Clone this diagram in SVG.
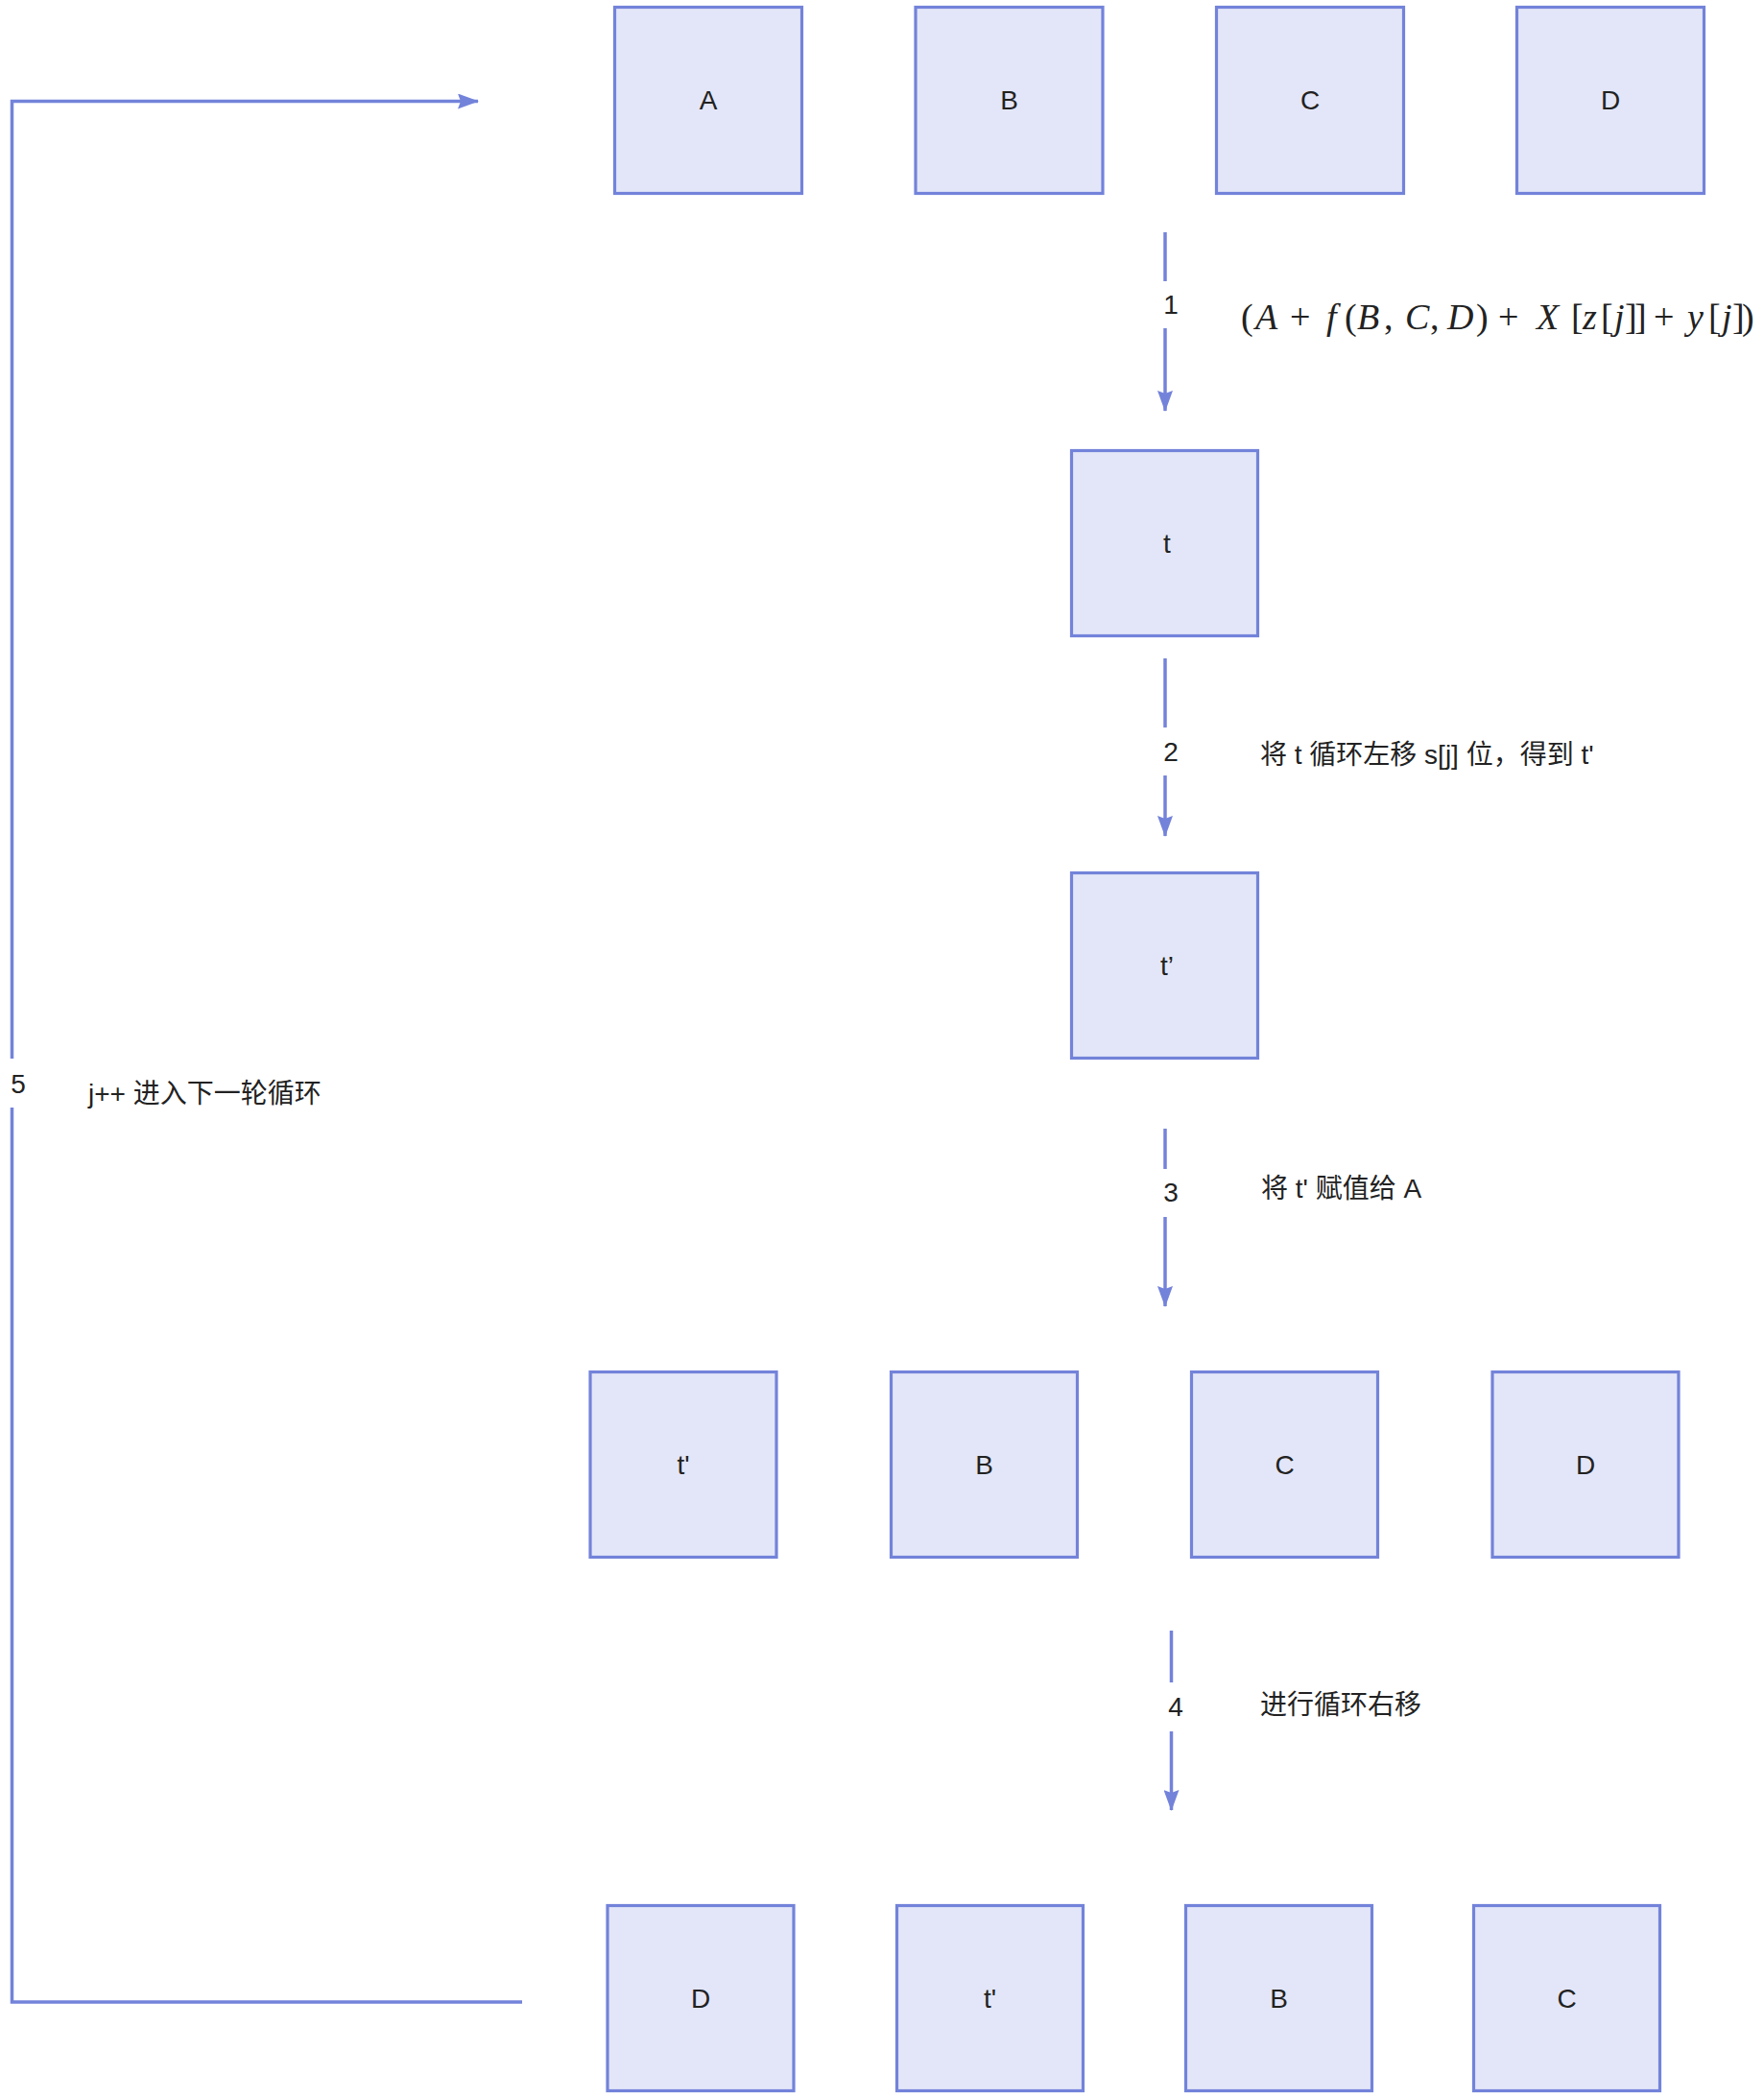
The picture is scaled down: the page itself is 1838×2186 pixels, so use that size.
<svg xmlns="http://www.w3.org/2000/svg" width="1838" height="2186" viewBox="0 0 1838 2186">
<style>
.box{fill:#e3e6f8;stroke:#7383da;stroke-width:3.2}
.lbl{font-family:"Liberation Sans","Noto Sans CJK SC",sans-serif;font-size:28px;fill:#222;text-anchor:middle;dominant-baseline:central}
.txt{font-family:"Liberation Sans","Noto Sans CJK SC",sans-serif;font-size:28px;fill:#222;dominant-baseline:central}
.edge{fill:none;stroke:#7383da;stroke-width:3.5}
.bg{fill:#ffffff}
.math{font-family:"Liberation Serif","DejaVu Serif",serif;font-size:38px;fill:#222}
.it{font-style:italic}
</style>
<defs>
<marker id="arr" viewBox="0 0 22 16" refX="21" refY="8" markerWidth="22" markerHeight="16" markerUnits="userSpaceOnUse" orient="auto">
<path d="M0,0 L22,8 L0,16 L3,8 Z" fill="#7383da"/>
</marker>
</defs>
<rect width="1838" height="2186" fill="#ffffff"/>

<g id="connectors">
<g id="e1"><path class="edge" d="M1214,242 V428" marker-end="url(#arr)"/><rect class="bg" x="1200" y="293" width="30" height="49"/><text class="lbl" x="1220" y="317">1</text></g>
<g id="e2"><path class="edge" d="M1214,686 V871" marker-end="url(#arr)"/><rect class="bg" x="1200" y="758" width="30" height="50"/><text class="lbl" x="1220" y="783">2</text></g>
<g id="e3"><path class="edge" d="M1214,1176 V1361" marker-end="url(#arr)"/><rect class="bg" x="1200" y="1218" width="30" height="50"/><text class="lbl" x="1220" y="1242">3</text></g>
<g id="e4"><path class="edge" d="M1220.5,1699 V1886" marker-end="url(#arr)"/><rect class="bg" x="1206" y="1753" width="30" height="51"/><text class="lbl" x="1225" y="1778">4</text></g>
<g id="e5"><path class="edge" d="M544,2086 H12.5 V105.5 H498" marker-end="url(#arr)"/><rect class="bg" x="3" y="1103" width="30" height="51"/><text class="lbl" x="19" y="1129">5</text></g>
</g>

<g id="edge-texts">
<text class="math" y="343"><tspan x="1293">(</tspan><tspan class="it" x="1308">A</tspan><tspan x="1344">+</tspan><tspan class="it" x="1382">f</tspan><tspan x="1401">(</tspan><tspan class="it" x="1414">B</tspan><tspan x="1442">,</tspan><tspan class="it" x="1464">C</tspan><tspan x="1490">,</tspan><tspan class="it" x="1508">D</tspan><tspan x="1538">)</tspan><tspan x="1561">+</tspan><tspan class="it" x="1601">X</tspan><tspan x="1637">[</tspan><tspan class="it" x="1649">z</tspan><tspan x="1668">[</tspan><tspan class="it" x="1682">j</tspan><tspan x="1693">]</tspan><tspan x="1703">]</tspan><tspan x="1723">+</tspan><tspan class="it" x="1758">y</tspan><tspan x="1780">[</tspan><tspan class="it" x="1794">j</tspan><tspan x="1805">]</tspan><tspan x="1815">)</tspan></text>
<text class="txt" x="1313" y="786">将 t 循环左移 s[j] 位，得到 t'</text>
<text class="txt" x="1314" y="1238">将 t' 赋值给 A</text>
<text class="txt" x="1313" y="1776">进行循环右移</text>
<text class="txt" x="92" y="1139">j++ 进入下一轮循环</text>
</g>

<g id="nA"><rect class="box" x="640.5" y="7.5" width="195" height="194"/><text class="lbl" x="738" y="104">A</text></g>
<g id="nB"><rect class="box" x="954" y="7.5" width="195" height="194"/><text class="lbl" x="1051.5" y="104">B</text></g>
<g id="nC"><rect class="box" x="1267.5" y="7.5" width="195" height="194"/><text class="lbl" x="1365" y="104">C</text></g>
<g id="nD"><rect class="box" x="1580.5" y="7.5" width="195" height="194"/><text class="lbl" x="1678" y="104">D</text></g>

<g id="nT"><rect class="box" x="1116.5" y="469.5" width="194" height="193"/><text class="lbl" x="1216" y="566">t</text></g>
<g id="nT2"><rect class="box" x="1116.5" y="909.5" width="194" height="193"/><text class="lbl" x="1216" y="1006">t’</text></g>

<g id="r3a"><rect class="box" x="615" y="1429.5" width="194" height="193"/><text class="lbl" x="712" y="1526">t'</text></g>
<g id="r3b"><rect class="box" x="928.5" y="1429.5" width="194" height="193"/><text class="lbl" x="1025.5" y="1526">B</text></g>
<g id="r3c"><rect class="box" x="1241.5" y="1429.5" width="194" height="193"/><text class="lbl" x="1338.5" y="1526">C</text></g>
<g id="r3d"><rect class="box" x="1555" y="1429.5" width="194" height="193"/><text class="lbl" x="1652" y="1526">D</text></g>

<g id="r4a"><rect class="box" x="633" y="1985.5" width="194" height="193"/><text class="lbl" x="730" y="2082">D</text></g>
<g id="r4b"><rect class="box" x="934.5" y="1985.5" width="194" height="193"/><text class="lbl" x="1031.5" y="2082">t'</text></g>
<g id="r4c"><rect class="box" x="1235.5" y="1985.5" width="194" height="193"/><text class="lbl" x="1332.5" y="2082">B</text></g>
<g id="r4d"><rect class="box" x="1535.5" y="1985.5" width="194" height="193"/><text class="lbl" x="1632.5" y="2082">C</text></g>
</svg>
